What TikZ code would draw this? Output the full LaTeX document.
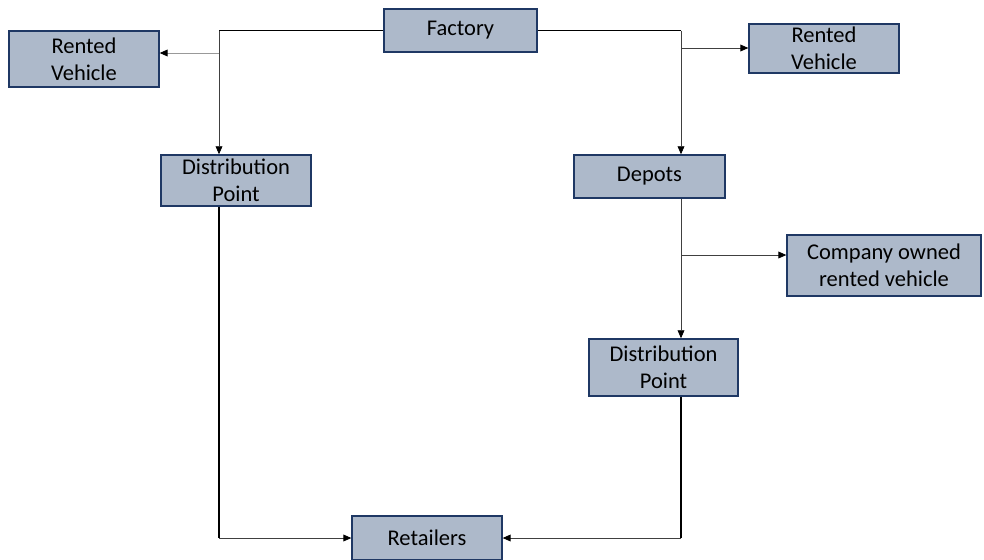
\documentclass[tikz,border=0pt]{standalone}
\usepackage{fontspec}
\setmainfont{Carlito}
\usepackage{xcolor}
\usetikzlibrary{arrows.meta}
\definecolor{boxfill}{HTML}{ADB9CA}
\definecolor{boxline}{HTML}{1F3864}

\begin{document}
\begin{tikzpicture}[x=0.025cm,y=-0.025cm,
    block/.style={draw=boxline,fill=boxfill,line width=0.9pt,inner sep=0pt,
        align=center,font=\fontsize{16}{19}\selectfont},
    trunk/.style={line width=1.3pt,black},
    link/.style={line width=0.6pt,black!75},
    tip/.style={-{Triangle[length=2mm,width=1.7mm,color=black]}}]
		\useasboundingbox (0,0) rectangle (984,559);

		\node[block,minimum width=3.83cm,minimum height=1.08cm] (factory) at (460.5,30.5) {Factory};
		\node[block,minimum width=3.75cm,minimum height=1.4cm] (rvl) at (84,59) {Rented\\Vehicle};
		\node[block,minimum width=3.75cm,minimum height=1.23cm] (rvr) at (824,48.5) {Rented\\Vehicle};
		\node[block,minimum width=3.75cm,minimum height=1.28cm] (dpl) at (236,180.5) {Distribution\\Point};
		\node[block,minimum width=3.78cm,minimum height=1.08cm] (depots) at (649.5,176.5) {Depots};
		\node[block,minimum width=4.85cm,minimum height=1.53cm] (company) at (884,265.5) {Company owned\\rented vehicle};
		\node[block,minimum width=3.73cm,minimum height=1.43cm] (dpr) at (663.5,367.5) {Distribution\\Point};
		\node[block,minimum width=3.75cm,minimum height=1.1cm] (retailers) at (427,538) {Retailers};

		\coordinate (jl) at (219,30.5);
		\coordinate (jr) at (681,30.5);
		\coordinate (bl) at (219,53);
		\coordinate (br) at (681,48);
		\coordinate (bc) at (681,255);

		% arrows
		\draw[trunk] (factory.west) -- (jl);
		\draw[link,tip] (jl) -- (jl |- dpl.north);
		\draw[link,tip,black!40] (bl) -- (bl -| rvl.east);
		\draw[trunk] (factory.east) -- (jr);
		\draw[link,tip] (jr) -- (jr |- depots.north);
		\draw[link,tip] (br) -- (br -| rvr.west);
		\draw[link,tip] (jr |- depots.south) -- (jr |- dpr.north);
		\draw[link,tip] (bc) -- (bc -| company.west);

		\draw[trunk] (jl |- dpl.south) -- (jl |- retailers.west);
		\draw[link,tip] (jl |- retailers.west) -- (retailers.west);
		\draw[trunk] (jr |- dpr.south) -- (jr |- retailers.east);
		\draw[link,tip] (jr |- retailers.east) -- (retailers.east);
\end{tikzpicture}
\end{document}
